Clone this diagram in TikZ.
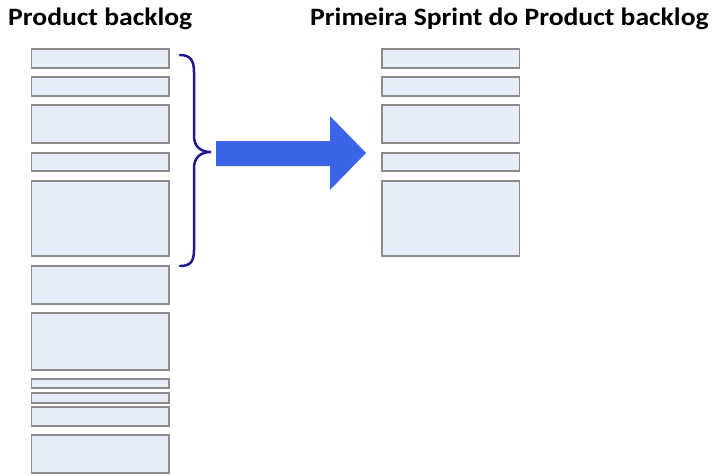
\documentclass[tikz,border=0pt]{standalone}
\usepackage{fontspec}
\setmainfont{Carlito}
\begin{document}
\begin{tikzpicture}[x=1pt,y=-1pt,
  item/.style={draw=black!45,fill=boxfill,line width=1.3pt},
  title/.style={font=\bfseries\fontsize{25}{28}\selectfont,anchor=base west,inner sep=0pt,xscale=1.105}]
\definecolor{boxfill}{RGB}{230,236,248}
\definecolor{bracecol}{RGB}{28,28,140}
\definecolor{arrowcol}{RGB}{60,100,232}
\useasboundingbox (0,0) rectangle (715,475);
\node[title] (t1) at (8,25) {Product backlog};
\node[title] (t2) at (310,25) {Primeira Sprint do Product backlog};
% left column
\foreach \a/\b [count=\i] in {49/68,77/96,105/143,153/171,181/256,266/304,313/370,379/388,393/403,407/426,435/473}{
  \draw[item] (31.5,\a) rectangle (169,\b);
}
% right column
\foreach \a/\b [count=\i] in {49/68,77/96,105/143,153/171,181/256}{
  \draw[item] (382,\a) rectangle (519.5,\b);
}
% brace
\coordinate (btop) at (180,55);
\coordinate (bmid) at (211,152);
\coordinate (bbot) at (180,266);
\draw[bracecol,line width=2.5pt,line cap=round]
  (btop) .. controls (190,55) and (194,60) .. (194,72)
  -- (194,136) .. controls (194,146) and (200,152) .. (bmid)
  .. controls (200,152) and (194,158) .. (194,168)
  -- (194,250) .. controls (194,262) and (190,266) .. (bbot);
% arrow
\fill[arrowcol] (216,141) -- (330,141) -- (330,116) -- (366,153) -- (330,190) -- (330,166) -- (216,166) -- cycle;
\end{tikzpicture}
\end{document}
